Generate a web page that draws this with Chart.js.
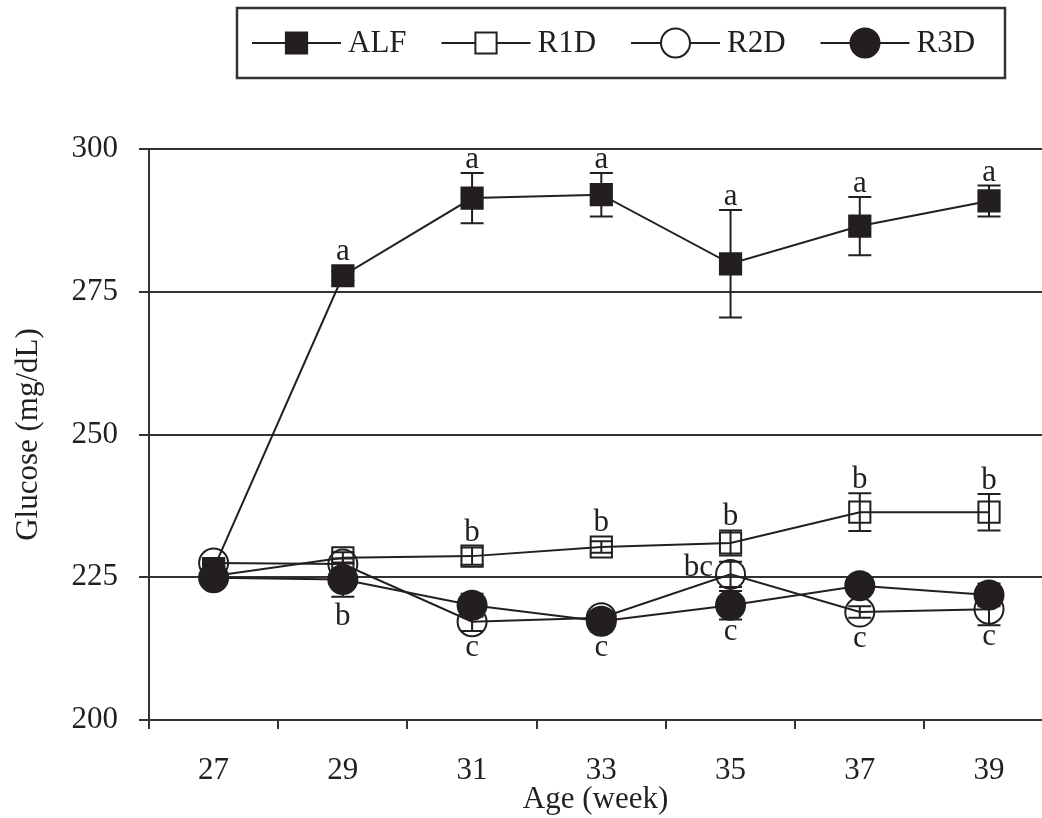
<!DOCTYPE html>
<html>
<head>
<meta charset="utf-8">
<script src="https://cdn.jsdelivr.net/npm/chart.js@4.4.1/dist/chart.umd.min.js"></script>
<style>
  html, body { margin: 0; padding: 0; background: #fff; overflow: hidden; }
</style>
</head>
<body>
<canvas id="glucoseChart" width="1042" height="818"></canvas>
<script>
// data (mean ± SE, mg/dL)
const weeks = [27, 29, 31, 33, 35, 37, 39]
const yTicks = [200, 225, 250, 275, 300]

const alfMean = [226.5, 277.8, 291.4, 292.0, 279.9, 286.5, 290.9]
const alfSe = [0, 0.8, 4.4, 3.8, 9.4, 5.1, 2.7]
const r1dMean = [225.2, 228.4, 228.7, 230.3, 231.0, 236.4, 236.4]
const r1dSe = [0, 1.0, 1.5, 1.0, 2.2, 3.3, 3.2]
const r2dMean = [227.5, 227.3, 217.2, 217.9, 225.5, 218.9, 219.4]
const r2dSe = [0, 1.0, 1.6, 0.8, 2.2, 1.0, 2.8]
const r3dMean = [224.9, 224.6, 220.1, 217.3, 220.1, 223.5, 221.9]
const r3dSe = [0, 3.0, 2.0, 1.8, 2.5, 1.5, 2.0]

// significance letters
const alfLetters = ["", "a", "a", "a", "a", "a", "a"]
const r1dLetters = ["", "", "b", "b", "b", "b", "b"]
const r2dLetters = ["", "", "c", "", "bc", "c", "c"]
const r3dLetters = ["", "b", "", "c", "c", "", ""]
const r2dLetterSide = ["below", "below", "below", "below", "left", "below", "below"]

const ink = "#231f20"
const serif = "'Liberation Serif', 'Times New Roman', serif"

const toPoints = (vals) => weeks.map((w, i) => ({ x: w, y: vals[i] }))

function markerPath(ctx, style, x, y, r) {
  ctx.beginPath()
  if (style === "rect") {
    const s = r * Math.SQRT1_2
    ctx.rect(x - s, y - s, 2 * s, 2 * s)
  } else {
    ctx.arc(x, y, r, 0, Math.PI * 2)
  }
}

function markerHalf(ds) {
  return ds.pointStyle === "rect" ? ds.pointRadius * Math.SQRT1_2 : ds.pointRadius
}

// error bars under the markers
const errorBars = {
  id: "errorBars",
  beforeDatasetsDraw(chart) {
    const { ctx, scales } = chart
    ctx.save()
    ctx.strokeStyle = ink
    ctx.lineWidth = 2
    chart.data.datasets.forEach((ds) => {
      ds.errors.forEach((se, i) => {
        if (!se) return
        const px = scales.x.getPixelForValue(ds.data[i].x)
        const top = scales.y.getPixelForValue(ds.data[i].y + se)
        const bot = scales.y.getPixelForValue(ds.data[i].y - se)
        ctx.beginPath()
        ctx.moveTo(px, top)
        ctx.lineTo(px, bot)
        ctx.moveTo(px - 11.5, top)
        ctx.lineTo(px + 11.5, top)
        ctx.moveTo(px - 11.5, bot)
        ctx.lineTo(px + 11.5, bot)
        ctx.stroke()
      })
    })
    ctx.restore()
  },
}

// letters above / below / left of points
const letterLabels = {
  id: "letterLabels",
  afterDatasetsDraw(chart) {
    const { ctx, scales } = chart
    ctx.save()
    ctx.fillStyle = ink
    ctx.font = "31px " + serif
    ctx.textBaseline = "alphabetic"
    chart.data.datasets.forEach((ds) => {
      const half = markerHalf(ds)
      ds.letters.forEach((txt, i) => {
        if (!txt) return
        const side = ds.letterSide[i]
        const v = ds.data[i].y
        const se = ds.errors[i]
        const px = scales.x.getPixelForValue(ds.data[i].x)
        const py = scales.y.getPixelForValue(v)
        if (side === "above") {
          const top = Math.min(scales.y.getPixelForValue(v + se), py - half)
          ctx.textAlign = "center"
          ctx.fillText(txt, px, top - 5)
        } else if (side === "below") {
          const bot = Math.max(scales.y.getPixelForValue(v - se), py + half)
          const m = ctx.measureText(txt)
          ctx.textAlign = "center"
          ctx.fillText(txt, px, bot + 5 + m.actualBoundingBoxAscent)
        } else {
          ctx.textAlign = "right"
          ctx.fillText(txt, px - half - 3, py + 2)
        }
      })
    })
    ctx.restore()
  },
}

// boxed legend at the top: line + marker + name
const boxLegend = {
  id: "boxLegend",
  afterDraw(chart) {
    const { ctx } = chart
    ctx.save()
    ctx.strokeStyle = "#333"
    ctx.lineWidth = 2.5
    ctx.strokeRect(237, 8, 768, 70)
    ctx.font = "31px " + serif
    ctx.textBaseline = "middle"
    ctx.textAlign = "left"
    chart.data.datasets.forEach((ds, i) => {
      const x0 = 252 + i * 189.5
      const y0 = 43
      ctx.strokeStyle = ink
      ctx.lineWidth = 2
      ctx.beginPath()
      ctx.moveTo(x0, y0)
      ctx.lineTo(x0 + 89, y0)
      ctx.stroke()
      markerPath(ctx, ds.pointStyle, x0 + 44.5, y0, ds.pointRadius)
      ctx.fillStyle = ds.pointBackgroundColor === "transparent" ? "#fff" : ds.pointBackgroundColor
      ctx.fill()
      ctx.stroke()
      ctx.fillStyle = ink
      ctx.fillText(ds.label, x0 + 96, y0 + 1)
    })
    ctx.restore()
  },
}

function makeSeries(label, mean, se, letters, sides, style, fill, order) {
  return {
    label: label,
    data: toPoints(mean),
    errors: se,
    letters: letters,
    letterSide: sides,
    order: order,
    borderColor: ink,
    borderWidth: 2,
    tension: 0,
    clip: false,
    pointStyle: style,
    pointRadius: style === "rect" ? 15 : 14.5,
    pointBorderWidth: 2,
    pointBorderColor: ink,
    pointBackgroundColor: fill,
    pointHoverRadius: style === "rect" ? 15 : 14.5,
  }
}

const ctx = document.getElementById("glucoseChart").getContext("2d")
new Chart(ctx, {
  type: "line",
  data: {
    datasets: [
      makeSeries("ALF", alfMean, alfSe, alfLetters, weeks.map(() => "above"), "rect", ink, 3),
      makeSeries("R1D", r1dMean, r1dSe, r1dLetters, weeks.map(() => "above"), "rect", "transparent", 2),
      makeSeries("R2D", r2dMean, r2dSe, r2dLetters, r2dLetterSide, "circle", "transparent", 1),
      makeSeries("R3D", r3dMean, r3dSe, r3dLetters, weeks.map(() => "below"), "circle", ink, 0),
    ],
  },
  options: {
    responsive: false,
    animation: false,
    layout: { autoPadding: false, padding: { top: 149, left: 0, right: 0, bottom: 0 } },
    plugins: {
      legend: { display: false },
      tooltip: { enabled: false },
    },
    scales: {
      x: {
        type: "linear",
        min: 26,
        max: 39.82,
        afterBuildTicks: (scale) => {
          const t = []
          for (let v = 26; v <= weeks[weeks.length - 1]; v++) t.push({ value: v })
          scale.ticks = t
        },
        afterFit: (scale) => {
          scale.height = 98
          scale.paddingLeft = 0
          scale.paddingRight = 0
        },
        ticks: {
          autoSkip: false,
          maxRotation: 0,
          padding: 23,
          color: ink,
          font: { family: serif, size: 31 },
          callback: (v) => (weeks.includes(v) ? String(v) : ""),
        },
        grid: {
          drawOnChartArea: false,
          tickLength: 9,
          lineWidth: 2,
          color: (c) => (c.tick && c.tick.value % 2 === 0 ? "#333" : "rgba(0,0,0,0)"),
        },
        border: { display: true, color: "#333", width: 2 },
        title: {
          display: true,
          text: "Age (week)",
          color: ink,
          font: { family: serif, size: 31 },
          padding: { top: 0, bottom: 0 },
        },
      },
      y: {
        min: 200,
        max: 300,
        afterBuildTicks: (scale) => {
          scale.ticks = yTicks.map((v) => ({ value: v }))
        },
        afterFit: (scale) => {
          scale.width = 149
        },
        ticks: {
          padding: 21,
          color: ink,
          font: { family: serif, size: 31 },
        },
        grid: {
          tickLength: 10,
          lineWidth: 2,
          color: "#333",
        },
        border: { display: true, color: "#333", width: 2 },
        title: {
          display: true,
          text: "Glucose (mg/dL)",
          color: ink,
          font: { family: serif, size: 31 },
          padding: { top: 10, bottom: 0 },
        },
      },
    },
  },
  plugins: [errorBars, letterLabels, boxLegend],
})
</script>
</body>
</html>
